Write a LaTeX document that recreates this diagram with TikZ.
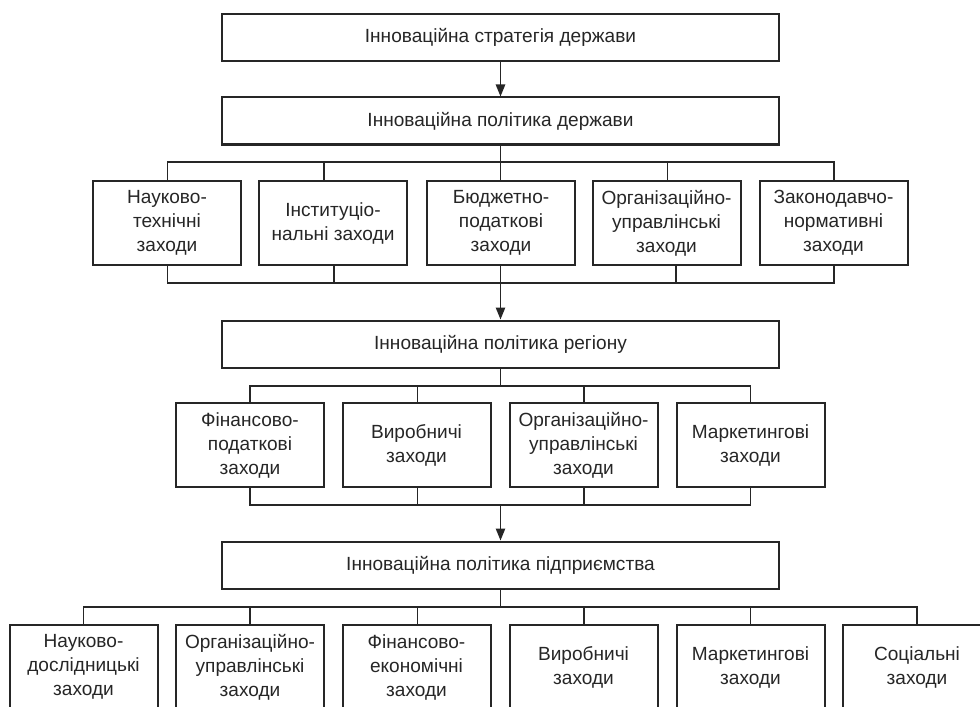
\documentclass[tikz,border=0pt]{standalone}
\usepackage{fontspec}
\setmainfont{Liberation Sans}
\usetikzlibrary{arrows.meta}
\definecolor{ink}{HTML}{262626}
\newcommand\diagfont{\fontsize{14.3}{18}\selectfont}
\begin{document}
\begin{tikzpicture}[x=0.75pt,y=-0.75pt,
  bigbox/.style={draw=ink, line width=1.5pt, minimum width=417.75pt, minimum height=35.25pt, inner sep=0pt, font=\diagfont, text=ink},
  smallbox/.style={draw=ink, line width=1.5pt, minimum width=111pt, minimum height=63pt, inner sep=0pt, align=center, font=\diagfont, text=ink},
  conn/.style={draw=ink, line width=1.2pt},
  arr/.style={-{Triangle[length=9pt,width=7pt]}}]
\useasboundingbox (0,0) rectangle (980,706);
\clip (0,0) rectangle (980,706);
% top level
\node[bigbox] (strat) at (500.5,37.5) {Інноваційна стратегія держави};
\node[bigbox] (state) at (500.5,121) {Інноваційна політика держави};
\draw[conn,arr] (strat.south) -- (state.north);
% state measures
\node[smallbox] (s1) at (167,223) {Науково-\\технічні\\заходи};
\node[smallbox] (s2) at (333,223) {Інституціо-\\нальні заходи};
\node[smallbox] (s3) at (501,223) {Бюджетно-\\податкові\\заходи};
\node[smallbox] (s4) at (666.5,223) {Організаційно-\\управлінські\\заходи};
\node[smallbox] (s5) at (833.5,223) {Законодавчо-\\нормативні\\заходи};
\coordinate (a1) at (167.5,162);
\coordinate (a2) at (324,162);
\coordinate (a3) at (500.5,162);
\coordinate (a4) at (667.5,162);
\coordinate (a5) at (834,162);
\draw[conn] (a1 |- s1.north) -- (a1) -- (a5) -- (a5 |- s5.north);
\draw[conn] (state.south) -- (a3);
\foreach \i in {2,3,4} \draw[conn] (a\i) -- (a\i |- s\i.north);
\coordinate (b1) at (167.5,283);
\coordinate (b2) at (334,283);
\coordinate (b3) at (500.5,283);
\coordinate (b4) at (676,283);
\coordinate (b5) at (834,283);
\draw[conn] (b1 |- s1.south) -- (b1) -- (b5) -- (b5 |- s5.south);
\foreach \i in {2,3,4} \draw[conn] (b\i |- s\i.south) -- (b\i);
% region
\node[bigbox] (region) at (500.5,344) {Інноваційна політика регіону};
\draw[conn,arr] (b3) -- (region.north);
\node[smallbox] (r1) at (250,445) {Фінансово-\\податкові\\заходи};
\node[smallbox] (r2) at (416.5,445) {Виробничі\\заходи};
\node[smallbox] (r3) at (583.5,445) {Організаційно-\\управлінські\\заходи};
\node[smallbox] (r4) at (750.5,445) {Маркетингові\\заходи};
\coordinate (c1) at (250,386);
\coordinate (c2) at (417.5,386);
\coordinate (c3) at (584,386);
\coordinate (c4) at (750.5,386);
\coordinate (cm) at (500.5,386);
\draw[conn] (c1 |- r1.north) -- (c1) -- (c4) -- (c4 |- r4.north);
\draw[conn] (region.south) -- (cm);
\foreach \i in {2,3} \draw[conn] (c\i) -- (c\i |- r\i.north);
\coordinate (d1) at (250,505);
\coordinate (d2) at (417.5,505);
\coordinate (d3) at (584,505);
\coordinate (d4) at (750.5,505);
\coordinate (dm) at (500.5,505);
\draw[conn] (d1 |- r1.south) -- (d1) -- (d4) -- (d4 |- r4.south);
\foreach \i in {2,3} \draw[conn] (d\i |- r\i.south) -- (d\i);
% enterprise
\node[bigbox] (ent) at (500.5,565) {Інноваційна політика підприємства};
\draw[conn,arr] (dm) -- (ent.north);
\node[smallbox] (e1) at (83.5,667) {Науково-\\дослідницькі\\заходи};
\node[smallbox] (e2) at (250,667) {Організаційно-\\управлінські\\заходи};
\node[smallbox] (e3) at (416.5,667) {Фінансово-\\економічні\\заходи};
\node[smallbox] (e4) at (583.5,667) {Виробничі\\заходи};
\node[smallbox] (e5) at (750.5,667) {Маркетингові\\заходи};
\node[smallbox] (e6) at (917,667) {Соціальні\\заходи};
\coordinate (f1) at (83.5,607);
\coordinate (f2) at (250,607);
\coordinate (f3) at (417.5,607);
\coordinate (f4) at (584,607);
\coordinate (f5) at (750.5,607);
\coordinate (f6) at (917,607);
\coordinate (fm) at (500.5,607);
\draw[conn] (f1 |- e1.north) -- (f1) -- (f6) -- (f6 |- e6.north);
\draw[conn] (ent.south) -- (fm);
\foreach \i in {2,3,4,5} \draw[conn] (f\i) -- (f\i |- e\i.north);
\end{tikzpicture}
\end{document}
